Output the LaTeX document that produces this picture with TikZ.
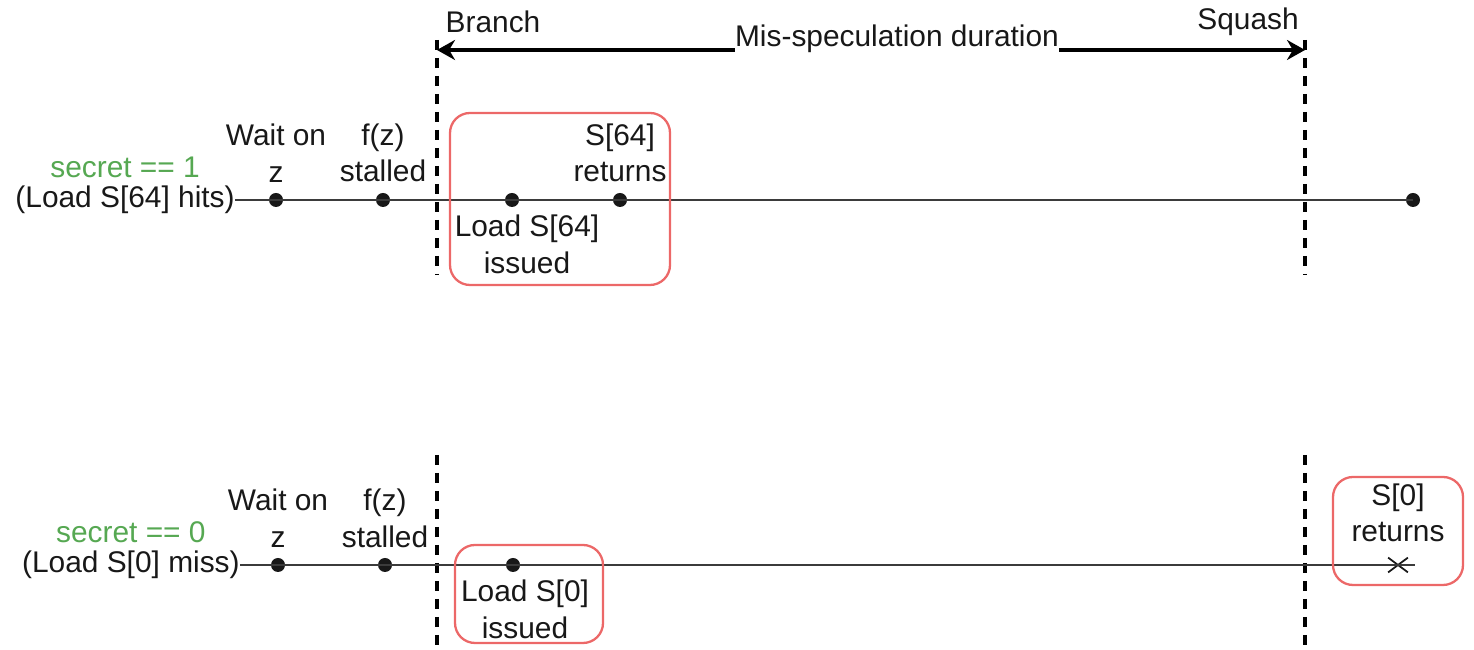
\documentclass[tikz,border=0pt]{standalone}
\usepackage{fontspec}
\setmainfont{Liberation Sans}
\usetikzlibrary{positioning,arrows.meta,shapes.misc}
\definecolor{secretgreen}{RGB}{86,168,82}
\definecolor{boxred}{RGB}{236,104,104}
\definecolor{ink}{RGB}{24,24,24}

\begin{document}
\begin{tikzpicture}[every node/.style={font=\fontsize{17}{21}\selectfont, text=ink, inner sep=0pt, align=center},
    evt/.style={circle, fill=ink, minimum size=0.28cm},
    timeline/.style={draw=ink!85, line width=1.6pt},
    boundary/.style={draw=black, line width=2.4pt, dash pattern=on 0.2cm off 0.16cm},
    window/.style={draw=boxred, line width=1.3pt, rounded corners=0.4cm},
    span/.style={draw=black, line width=2.2pt, -{Stealth[length=0.36cm,width=0.4cm]}}]
    \useasboundingbox (0,0) rectangle (29.48,13);

    % BRANCH / SQUASH
    \coordinate (brA) at (8.74,12.0);
    \coordinate (sqA) at (26.1,12.0);
    \coordinate (br1) at (8.74,12.2);
    \coordinate (br2) at (8.74,7.5);
    \coordinate (br3) at (8.74,3.9);
    \coordinate (br4) at (8.74,0);
    \coordinate (sq1) at (26.1,12.2);
    \coordinate (sq2) at (26.1,7.5);
    \coordinate (sq3) at (26.1,3.9);
    \coordinate (sq4) at (26.1,0);
    \draw[boundary] (br1) -- (br2);
    \draw[boundary] (br3) -- (br4);
    \draw[boundary] (sq1) -- (sq2);
    \draw[boundary] (sq3) -- (sq4);
    \node (branch) at (9.86,12.56) {Branch};
    \node (squash) at (24.96,12.56) {Squash};
    \node[anchor=base] (dur) at (17.94,12.07) {Mis-speculation duration};
    \draw[span] (dur.west |- brA) -- (brA);
    \draw[span] (dur.east |- sqA) -- (sqA);

    % SECRET == 1
    \node[anchor=east] (hit) at (4.7,9.0) {(Load S[64] hits)};
    \node[text=secretgreen, above=0.15cm of hit] (sec1) {secret == 1};
    \node[evt] (wait1) at (5.52,9.0) {};
    \node[evt] (stall1) at (7.66,9.0) {};
    \node[evt] (issue1) at (10.24,9.0) {};
    \node[evt] (ret1) at (12.4,9.0) {};
    \node[evt] (end1) at (28.26,9.0) {};
    \draw[timeline] (hit.east) -- (end1.center);
    \node[above=0.2cm of wait1] (waitlab1) {Wait on\\z};
    \node[above=0.2cm of stall1] (stalllab1) {f(z)\\stalled};
    \node[above=0.2cm of ret1] (retlab1) {S[64]\\returns};
    \node[below=0.14cm of issue1, xshift=0.3cm] (issuelab1) {Load S[64]\\issued};
    \draw[window] (9.0,10.74) rectangle (13.4,7.3);

    % SECRET == 0
    \node[anchor=east] (miss) at (4.8,1.7) {(Load S[0] miss)};
    \node[text=secretgreen, above=0.15cm of miss] (sec0) {secret == 0};
    \node[evt] (wait0) at (5.56,1.7) {};
    \node[evt] (stall0) at (7.7,1.7) {};
    \node[evt] (issue0) at (10.26,1.7) {};
    \node[cross out, draw=ink, line width=1pt, minimum width=0.36cm, minimum height=0.26cm] (ret0) at (27.96,1.7) {};
    \coordinate (end0) at (28.3,1.7);
    \draw[timeline] (miss.east) -- (end0);
    \node[above=0.2cm of wait0] (waitlab0) {Wait on\\z};
    \node[above=0.2cm of stall0] (stalllab0) {f(z)\\stalled};
    \node[above=0.3cm of ret0] (retlab0) {S[0]\\returns};
    \node[below=0.14cm of issue0, xshift=0.24cm] (issuelab0) {Load S[0]\\issued};
    \draw[window] (9.1,2.1) rectangle (12.06,0.14);
    \draw[window] (26.66,3.46) rectangle (29.26,1.3);
\end{tikzpicture}
\end{document}
